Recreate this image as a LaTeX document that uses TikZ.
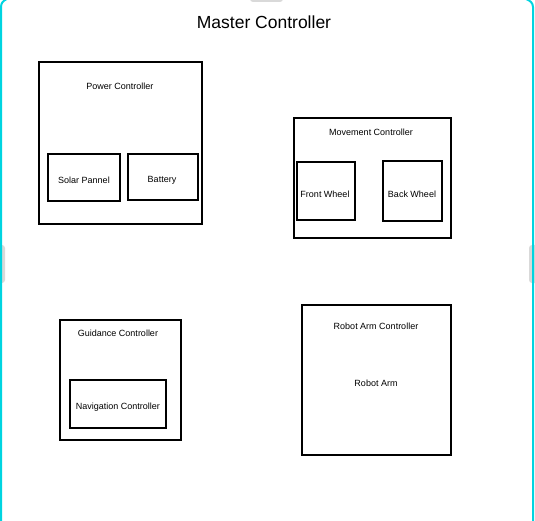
\documentclass[tikz,border=0pt]{standalone}
\usepackage{fontspec}
\setmainfont{Liberation Sans}
\begin{document}
\begin{tikzpicture}[x=1pt,y=-1pt,
  box/.style={draw=black,line width=1.4pt,fill=none,inner sep=0pt,minimum width=#1},
  box/.default=10pt,
  lbl/.style={font=\fontsize{9}{10}\selectfont,inner sep=0pt,text=black},
  frame/.style={draw={rgb,255:red,0;green,212;blue,224},line width=2pt},
  handle/.style={fill={rgb,255:red,217;green,217;blue,217},draw=none,rounded corners=3pt}]
\useasboundingbox (0,0) rectangle (535,521);
\begin{scope}
\clip (0,0) rectangle (535,521);
% grey handles
\fill[handle] (250,-6) rectangle (283,2);
\fill[handle] (-6,245) rectangle (5,283);
\fill[handle] (529,245) rectangle (541,283);
% cyan frame
\coordinate (fl1) at (1,530);
\coordinate (fl2) at (1,7);
\coordinate (fl3) at (7,-1);
\coordinate (fr1) at (533,530);
\coordinate (fr2) at (533,7);
\coordinate (fr3) at (526,-1);
\draw[frame] (fl1) -- (fl2) to[out=90,in=200] (fl3);
\draw[frame] (fr1) -- (fr2) to[out=90,in=-20] (fr3);
\end{scope}
% title
\node[font=\fontsize{17.5}{20}\selectfont,inner sep=0pt] (title) at (264,22) {Master Controller};
% Power controller
\node[box=163pt,minimum height=162pt] (power) at (120.5,143) {};
\node[lbl] (powerl) at (120,86) {Power Controller};
\node[box=72pt,minimum height=47pt] (solar) at (84,177.5) {};
\node[lbl] (solarl) at (84,180) {Solar Pannel};
\node[box=70pt,minimum height=46pt] (battery) at (163,177) {};
\node[lbl] (batteryl) at (162,180) {Battery};
% Movement controller
\node[box=157pt,minimum height=120pt] (move) at (372.5,178) {};
\node[lbl] (movel) at (371,132) {Movement Controller};
\node[box=58pt,minimum height=58pt] (front) at (326,191) {};
\node[lbl] (frontl) at (325,194) {Front Wheel};
\node[box=59pt,minimum height=60pt] (back) at (412.5,191) {};
\node[lbl] (backl) at (412,194) {Back Wheel};
% Guidance controller
\node[box=121pt,minimum height=120pt] (guid) at (120.5,380) {};
\node[lbl] (guidl) at (118,333) {Guidance Controller};
\node[box=96pt,minimum height=48pt] (nav) at (118,404) {};
\node[lbl] (navl) at (118,407) {Navigation Controller};
% Robot arm controller
\node[box=149pt,minimum height=150pt] (arm) at (376.5,380) {};
\node[lbl] (arml) at (376,326) {Robot Arm Controller};
\node[lbl] (armi) at (376,383) {Robot Arm};
\end{tikzpicture}
\end{document}
